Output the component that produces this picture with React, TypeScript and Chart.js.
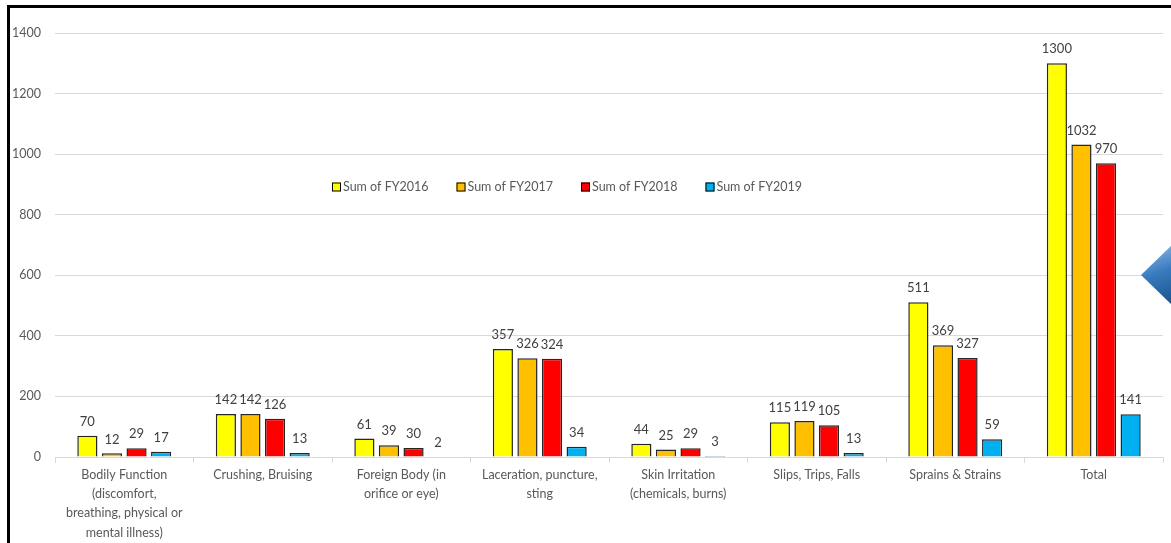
import React, { useEffect, useRef } from "react";
import { Chart, registerables } from "chart.js";

Chart.register(...registerables);

const categories: string[][] = [
  ["Bodily Function", "(discomfort,", "breathing, physical or", "mental illness)"],
  ["Crushing, Bruising"],
  ["Foreign Body (in", "orifice or eye)"],
  ["Laceration, puncture,", "sting"],
  ["Skin Irritation", "(chemicals, burns)"],
  ["Slips, Trips, Falls"],
  ["Sprains & Strains"],
  ["Total"],
];

const seriesNames = ["Sum of FY2016", "Sum of FY2017", "Sum of FY2018", "Sum of FY2019"];
const fy2016 = [70, 142, 61, 357, 44, 115, 511, 1300];
const fy2017 = [12, 142, 39, 326, 25, 119, 369, 1032];
const fy2018 = [29, 126, 30, 324, 29, 105, 327, 970];
const fy2019 = [17, 13, 2, 34, 3, 13, 59, 141];
const seriesColors = ["#FFFF00", "#FFC000", "#FF0000", "#00B0F0"];
const yTicks = [0, 200, 400, 600, 800, 1000, 1200, 1400];

const FONT = "Lato, 'Open Sans', sans-serif";
const TEXT = "#595959";

const labelsPlugin = {
  id: "valueLabels",
  afterDatasetsDraw(chart: any) {
    const ctx = chart.ctx;
    ctx.save();
    ctx.font = `13px ${FONT}`;
    ctx.fillStyle = "#404040";
    ctx.textAlign = "center";
    ctx.textBaseline = "middle";
    chart.data.datasets.forEach((ds: any, i: number) => {
      const meta = chart.getDatasetMeta(i);
      meta.data.forEach((bar: any, j: number) => {
        ctx.fillText(String(ds.data[j]), bar.x, bar.y - 14);
      });
    });
    ctx.restore();
  },
};

const legendPlugin = {
  id: "innerLegend",
  afterDraw(chart: any) {
    const ctx = chart.ctx;
    ctx.save();
    ctx.font = `12.5px ${FONT}`;
    ctx.textBaseline = "middle";
    ctx.textAlign = "left";
    const y = 187;
    let x = 332;
    chart.data.datasets.forEach((ds: any) => {
      ctx.fillStyle = ds.backgroundColor;
      ctx.fillRect(x, y - 4.5, 9, 9);
      ctx.strokeStyle = "#000";
      ctx.lineWidth = 1;
      ctx.strokeRect(x + 0.5, y - 4, 8, 8);
      ctx.fillStyle = TEXT;
      ctx.fillText(ds.label, x + 11, y);
      x += 124.5;
    });
    ctx.restore();
  },
};

export default function App() {
  const ref = useRef<HTMLCanvasElement | null>(null);

  useEffect(() => {
    if (!ref.current) return;
    const data = [fy2016, fy2017, fy2018, fy2019];
    const chart = new Chart(ref.current, {
      type: "bar",
      data: {
        labels: categories,
        datasets: data.map((d, i) => ({
          label: seriesNames[i],
          data: d,
          backgroundColor: seriesColors[i],
          borderColor: "#262626",
          borderWidth: 1.5,
          categoryPercentage: 0.71,
          barPercentage: 0.82,
        })),
      },
      options: {
        responsive: false,
        animation: false,
        layout: { padding: { left: 0, top: 33, right: 8, bottom: 0 } },
        plugins: {
          legend: { display: false },
          tooltip: { enabled: false },
        },
        scales: {
          x: {
            offset: true,
            grid: {
              offset: true,
              drawOnChartArea: false,
              drawTicks: true,
              tickLength: 6,
              color: "#d9d9d9",
            },
            border: { color: "#d9d9d9" },
            ticks: {
              color: TEXT,
              font: { family: FONT, size: 12.5, lineHeight: 1.55 },
              padding: 2,
              maxRotation: 0,
              autoSkip: false,
            },
            afterFit(scale: any) {
              scale.height = 86;
            },
          },
          y: {
            min: 0,
            max: 1400,
            afterBuildTicks(scale: any) {
              scale.ticks = yTicks.map((v) => ({ value: v }));
            },
            grid: { color: "#d9d9d9", drawTicks: false },
            border: { display: false },
            ticks: {
              color: TEXT,
              font: { family: FONT, size: 12.5 },
              padding: 14,
              callback: (v: any) => String(v),
            },
            afterFit(scale: any) {
              scale.width = 55;
            },
          },
        },
      },
      plugins: [labelsPlugin, legendPlugin],
    });
    return () => chart.destroy();
  }, []);

  return (
    <div
      style={{
        position: "fixed",
        left: 0,
        top: 0,
        width: 1171,
        height: 543,
        overflow: "hidden",
        background: "#fff",
      }}
    >
      <canvas ref={ref} width={1171} height={543} style={{ position: "absolute", left: 0, top: 0 }} />
      <div
        style={{
          position: "absolute",
          left: 7,
          top: 5,
          width: 1200,
          height: 600,
          borderLeft: "3px solid #000",
          borderTop: "3px solid #000",
          pointerEvents: "none",
        }}
      />
      <div
        style={{
          position: "absolute",
          left: 1141,
          top: 244,
          width: 64,
          height: 62,
          clipPath: "polygon(0 50%, 50% 0, 100% 50%, 50% 100%)",
          background: "linear-gradient(160deg, #9cc3ea 0%, #3a7cc0 40%, #1f5a96 75%, #173f6a 100%)",
        }}
      />
    </div>
  );
}
